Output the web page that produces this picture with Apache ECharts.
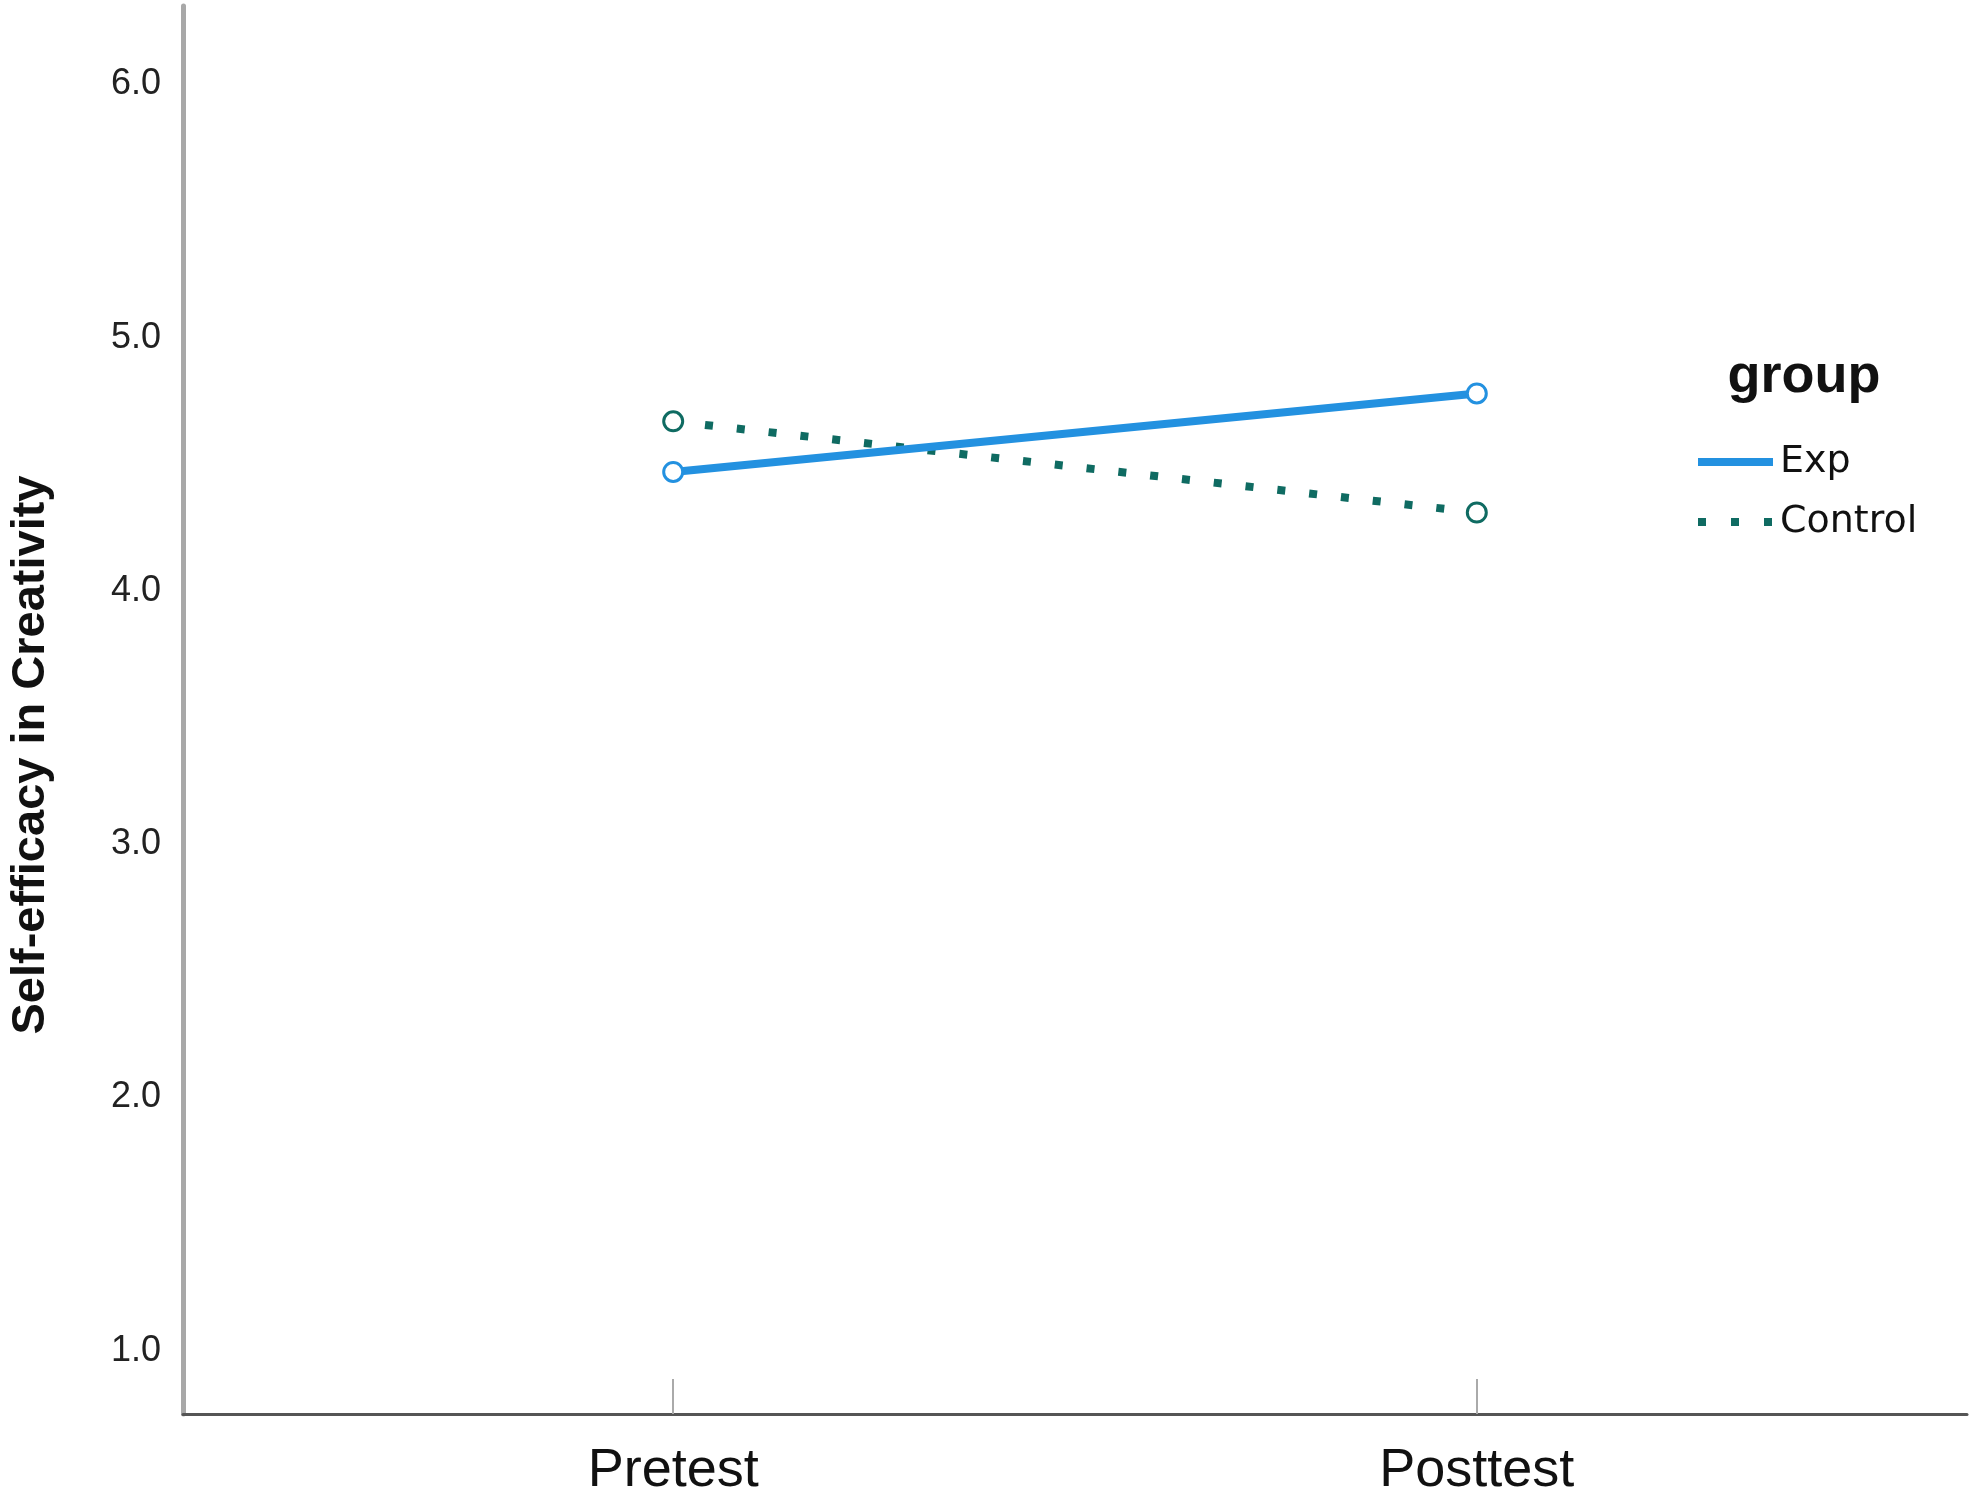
<!DOCTYPE html>
<html>
<head>
<meta charset="utf-8">
<script src="https://cdn.jsdelivr.net/npm/echarts@6/dist/echarts.min.js"></script>
<style>
html,body{margin:0;padding:0;background:#fff;}
#chart{width:1975px;height:1498px;}
</style>
</head>
<body>
<div id="chart"></div>
<script>
const categories = ['Pretest', 'Posttest'];
const expValues = [4.47, 4.78];
const controlValues = [4.67, 4.31];
const yTicks = [1, 2, 3, 4, 5, 6];
const seriesNames = ['Exp', 'Control'];

const chart = echarts.init(document.getElementById('chart'));
const toPoints = vals => vals.map((v, i) => [i, v]);

const expColor = '#2391e0';
const ctrlColor = '#0f6b62';

chart.setOption({
  backgroundColor: '#ffffff',
  animation: false,
  title: {
    text: 'group',
    left: 1799,
    top: 342,
    textAlign: 'center',
    textStyle: { fontFamily: 'Liberation Sans, Arial, sans-serif', fontWeight: 'bold', fontSize: 54, color: '#111', lineHeight: 60 }
  },
  legend: {
    data: [
      { name: seriesNames[0], lineStyle: { width: 8, color: expColor } },
      { name: seriesNames[1], lineStyle: { width: 8, color: ctrlColor, type: [8, 25], cap: 'butt' } }
    ],
    orient: 'vertical',
    left: 1689,
    top: 437,
    itemWidth: 75,
    itemHeight: 20,
    itemGap: 20,
    itemStyle: { opacity: 0 },
    textStyle: { fontFamily: 'DejaVu Sans, sans-serif', fontSize: 38, color: '#111', lineHeight: 40, padding: [0, 0, 0, 2] }
  },
  grid: { left: 179, right: 8, top: 6, bottom: 82, containLabel: false },
  xAxis: {
    type: 'value',
    min: -0.61,
    max: 1.61,
    axisLine: { show: true, onZero: false, lineStyle: { color: '#555', width: 3 } },
    axisTick: { show: true, inside: true, length: 35, customValues: [0, 1], lineStyle: { color: '#aaa', width: 2 } },
    axisLabel: {
      customValues: [0, 1],
      formatter: v => categories[Math.round(v)],
      fontFamily: 'Liberation Sans, Arial, sans-serif',
      fontSize: 54,
      color: '#111',
      margin: 30
    },
    splitLine: { show: false }
  },
  yAxis: {
    type: 'value',
    min: 0.75,
    max: 6.31,
    name: 'Self-efficacy in Creativity',
    nameLocation: 'middle',
    nameRotate: 90,
    nameGap: 128,
    nameTextStyle: { fontFamily: 'Liberation Sans, Arial, sans-serif', fontWeight: 'bold', fontSize: 47, color: '#111', padding: [0, 90, 0, 0] },
    axisLine: { show: true, onZero: false, lineStyle: { color: '#a8a8a8', width: 5 } },
    axisTick: { show: false },
    axisLabel: {
      customValues: yTicks,
      formatter: v => v.toFixed(1),
      fontFamily: 'Liberation Sans, Arial, sans-serif',
      fontSize: 36,
      color: '#222',
      margin: 22
    },
    splitLine: { show: false }
  },
  series: [
    {
      name: seriesNames[0],
      type: 'line',
      data: toPoints(expValues),
      symbol: 'circle',
      symbolSize: 19,
      lineStyle: { color: expColor, width: 8 },
      itemStyle: { color: '#ffffff', borderColor: expColor, borderWidth: 3 },
      z: 3
    },
    {
      name: seriesNames[1],
      type: 'line',
      data: toPoints(controlValues),
      symbol: 'circle',
      symbolSize: 19,
      lineStyle: { color: ctrlColor, width: 8, type: [8, 24], cap: 'butt' },
      itemStyle: { color: '#ffffff', borderColor: ctrlColor, borderWidth: 3 },
      z: 2
    }
  ]
});
</script>
</body>
</html>
